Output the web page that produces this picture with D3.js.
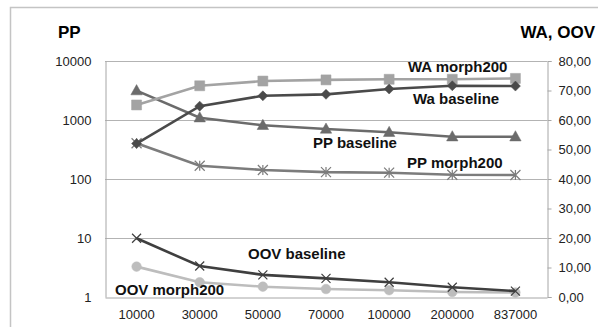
<!DOCTYPE html>
<html><head><meta charset="utf-8">
<script src="https://cdn.jsdelivr.net/npm/d3@7"></script>
<style>
html,body{margin:0;padding:0;background:#fff;}
text{font-family:"Liberation Sans",Arial,sans-serif;}
</style></head>
<body><svg id="c" width="598" height="327"></svg>
<script>
const categories = ["10000","30000","50000","70000","100000","200000","837000"];
const ppBaseline = [3150,1094,813,704,619,521,521];
const ppMorph200 = [403,168,142,131,128,118,117];
const waMorph200 = [65.1,71.6,73.2,73.6,73.8,73.8,74.1];
const waBaseline = [52.0,64.7,68.2,68.7,70.5,71.6,71.5];
const oovBaseline = [19.9,10.5,7.5,6.3,5.0,3.3,2.0];
const oovMorph200 = [10.3,5.0,3.5,2.7,2.3,1.7,1.5];
const leftTicks = [1,10,100,1000,10000];
const rightTicks = [0,10,20,30,40,50,60,70,80];

const svg = d3.select("#c");
const L=105, R=547, T=61, B=297;

// outer frame
svg.append("rect").attr("x",10.5).attr("y",7.5).attr("width",600).attr("height",330)
  .attr("fill","none").attr("stroke","#c4c4c4").attr("stroke-width",1.5);

const x = d3.scaleBand().domain(categories).range([L,R]);
const yL = d3.scaleLog().domain([1,10000]).range([B,T]);
const yR = d3.scaleLinear().domain([0,80]).range([B,T]);
const cx = c => x(c)+x.bandwidth()/2;

// gridlines
svg.append("g").selectAll("line").data(leftTicks.slice(1)).join("line")
  .attr("x1",L).attr("x2",R).attr("y1",d=>Math.round(yL(d))+0.5).attr("y2",d=>Math.round(yL(d))+0.5)
  .attr("stroke","#b3b3b3").attr("stroke-width",1);

// left axis
const gl = svg.append("g").attr("transform",`translate(${L+0.5},0)`)
  .call(d3.axisLeft(yL).tickValues(leftTicks).tickFormat(d3.format("d")).tickSize(0).tickPadding(14));
gl.select(".domain").attr("stroke","#a6a6a6");
gl.selectAll("text").attr("font-size",13).attr("fill","#222");

// right axis
const gr = svg.append("g").attr("transform",`translate(${R+0.5},0)`)
  .call(d3.axisRight(yR).tickValues(rightTicks).tickFormat(d=>d3.format(".2f")(d).replace(".",",")).tickSize(4).tickPadding(7));
gr.select(".domain").attr("stroke","#a6a6a6");
gr.selectAll(".tick line").attr("stroke","#a6a6a6");
gr.selectAll("text").attr("font-size",13).attr("fill","#222");

// bottom axis
const gb = svg.append("g").attr("transform",`translate(0,${B+0.5})`)
  .call(d3.axisBottom(x).tickSize(0).tickPadding(12));
gb.select(".domain").attr("stroke","#a6a6a6");
gb.selectAll("text").attr("font-size",13).attr("fill","#222");

// axis titles
svg.append("text").attr("x",58).attr("y",38).attr("font-size",17).attr("font-weight","bold").text("PP");
svg.append("text").attr("x",595).attr("y",38).attr("text-anchor","end").attr("font-size",17).attr("font-weight","bold").text("WA, OOV");

const markers = {
  tri: s=>`M0,${-s}L${s*0.95},${s*0.7}L${-s*0.95},${s*0.7}Z`,
  sq: s=>`M${-s},${-s}H${s}V${s}H${-s}Z`,
  dia: s=>`M0,${-s}L${s},0L0,${s}L${-s},0Z`,
  circ: s=>d3.symbol(d3.symbolCircle, Math.PI*s*s)(),
  star: s=>`M${-s},${-s}L${s},${s}M${-s},${s}L${s},${-s}M0,${-s}V${s}`,
  x: s=>`M${-s},${-s}L${s},${s}M${-s},${s}L${s},${-s}`
};

function series(vals, scale, color, mk, size, filled){
  const g = svg.append("g");
  g.append("path").datum(vals)
    .attr("d", d3.line().x((d,i)=>cx(categories[i])).y(d=>scale(d)))
    .attr("fill","none").attr("stroke",color).attr("stroke-width",2.6);
  g.selectAll("path.m").data(vals).join("path").attr("class","m")
    .attr("transform",(d,i)=>`translate(${cx(categories[i])},${scale(d)})`)
    .attr("d", markers[mk](size))
    .attr("fill", filled?color:"none").attr("stroke",color).attr("stroke-width",filled?0.5:1.2);
}

series(ppMorph200, yL, "#7c7c7c", "star", 5, false);
series(ppBaseline, yL, "#6b6b6b", "tri", 6, true);
series(oovMorph200, yR, "#bdbdbd", "circ", 4.8, true);
series(oovBaseline, yR, "#3f3f3f", "x", 4.5, false);
series(waMorph200, yR, "#a3a3a3", "sq", 5, true);
series(waBaseline, yR, "#4a4a4a", "dia", 5, true);

// series labels
const labels = [
  {t:"WA morph200", x:408, y:72},
  {t:"Wa baseline", x:413, y:104},
  {t:"PP baseline", x:313, y:148},
  {t:"PP morph200", x:407, y:168},
  {t:"OOV baseline", x:248, y:259},
  {t:"OOV morph200", x:115, y:295}
];
svg.append("g").selectAll("text").data(labels).join("text")
  .attr("x",d=>d.x).attr("y",d=>d.y).attr("font-size",15).attr("font-weight","bold").attr("fill","#111")
  .text(d=>d.t);
</script></body></html>
